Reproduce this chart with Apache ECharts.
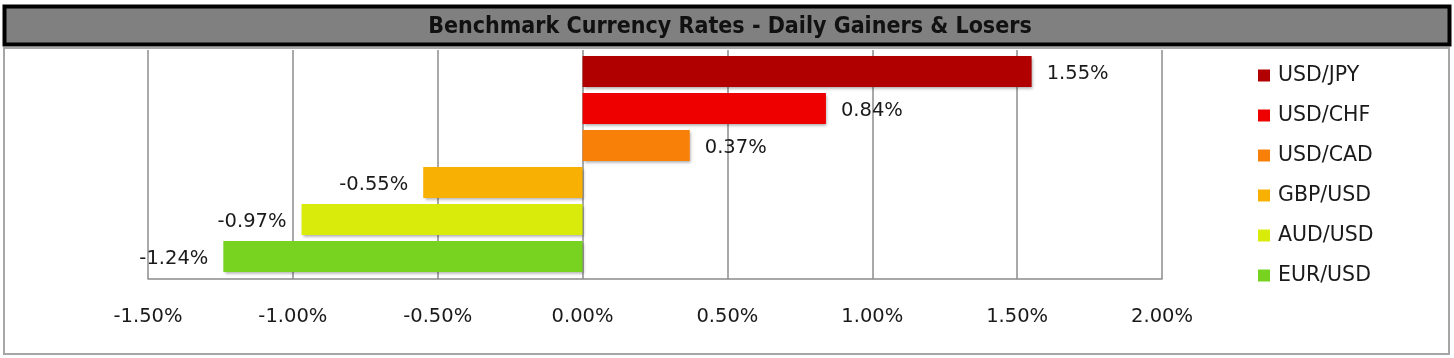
<!DOCTYPE html>
<html>
<head>
<meta charset="utf-8">
<script src="https://cdn.jsdelivr.net/npm/echarts@6/dist/echarts.min.js"></script>
<style>
html,body{margin:0;padding:0;background:#fff;}
#c{width:1454px;height:358px;}
</style>
</head>
<body>
<div id="c"></div>
<script>
const titleText = 'Benchmark Currency Rates - Daily Gainers & Losers';
const categories = ['USD/JPY', 'USD/CHF', 'USD/CAD', 'GBP/USD', 'AUD/USD', 'EUR/USD'];
const values = [1.55, 0.84, 0.37, -0.55, -0.97, -1.24];
const colors = ['#b00000', '#ee0000', '#f98008', '#f8b002', '#d8eb0b', '#77d320'];
const xTicks = [-1.5, -1.0, -0.5, 0.0, 0.5, 1.0, 1.5, 2.0];

const FONT = 'DejaVu Sans';
const chart = echarts.init(document.getElementById('c'), null, {renderer: 'canvas'});

const series = categories.map((name, i) => ({
  name: name,
  type: 'bar',
  stack: 'all',
  xAxisIndex: 1,
  yAxisIndex: 1,
  barWidth: 31,
  itemStyle: {
    color: colors[i],
    shadowBlur: 3,
    shadowColor: 'rgba(0,0,0,0.35)',
    shadowOffsetX: 1.5,
    shadowOffsetY: 1.5
  },
  label: {
    show: true,
    position: values[i] >= 0 ? 'right' : 'left',
    distance: 15,
    offset: [0, 2],
    formatter: p => p.value.toFixed(2) + '%',
    fontFamily: FONT,
    fontSize: 19.5,
    color: '#1a1a1a'
  },
  data: categories.map((c, j) => (j === i ? values[i] : '-'))
}));

chart.setOption({
  animation: false,
  backgroundColor: '#fff',
  graphic: [
    {type: 'rect', z: -10, shape: {x: 4, y: 48, width: 1445, height: 306}, style: {fill: '#fff', stroke: '#a6a6a6', lineWidth: 2}},
    {type: 'rect', z: 10, shape: {x: 4.5, y: 6.5, width: 1445, height: 38}, style: {fill: '#808080', stroke: '#000', lineWidth: 4}},
    {type: 'text', z: 11, style: {text: titleText, x: 730, y: 27, align: 'center', verticalAlign: 'middle',
      font: 'bold 23px "DejaVu Sans Condensed", "DejaVu Sans"', fill: '#111'}}
  ],
  legend: {
    orient: 'vertical',
    left: 1253,
    top: 60,
    itemWidth: 12,
    itemHeight: 12,
    itemGap: 19,
    icon: 'rect',
    textStyle: {fontFamily: FONT, fontSize: 20.5, color: '#1a1a1a', lineHeight: 21, padding: [0, 0, 0, 3]},
    data: categories
  },
  grid: [
    {left: 148, width: 1014, top: 50, height: 229},
    {left: 148, width: 1014, top: 53, height: 222}
  ],
  xAxis: [
    {
      gridIndex: 0, type: 'value', min: xTicks[0], max: xTicks[xTicks.length - 1], interval: 0.5,
      axisLine: {show: true, onZero: false, lineStyle: {color: '#8c8c8c', width: 1.5}},
      axisTick: {show: false},
      splitLine: {show: true, lineStyle: {color: '#8c8c8c', width: 1.5}},
      axisLabel: {margin: 28, fontFamily: FONT, fontSize: 19.5, color: '#1a1a1a',
        formatter: v => v.toFixed(2) + '%'}
    },
    {
      gridIndex: 1, type: 'value', min: xTicks[0], max: xTicks[xTicks.length - 1], interval: 0.5,
      show: false, splitLine: {show: false}
    }
  ],
  yAxis: [
    {gridIndex: 0, type: 'category', data: categories, show: false},
    {gridIndex: 1, type: 'category', data: categories, inverse: true, show: false}
  ],
  series: series
});
</script>
</body>
</html>
